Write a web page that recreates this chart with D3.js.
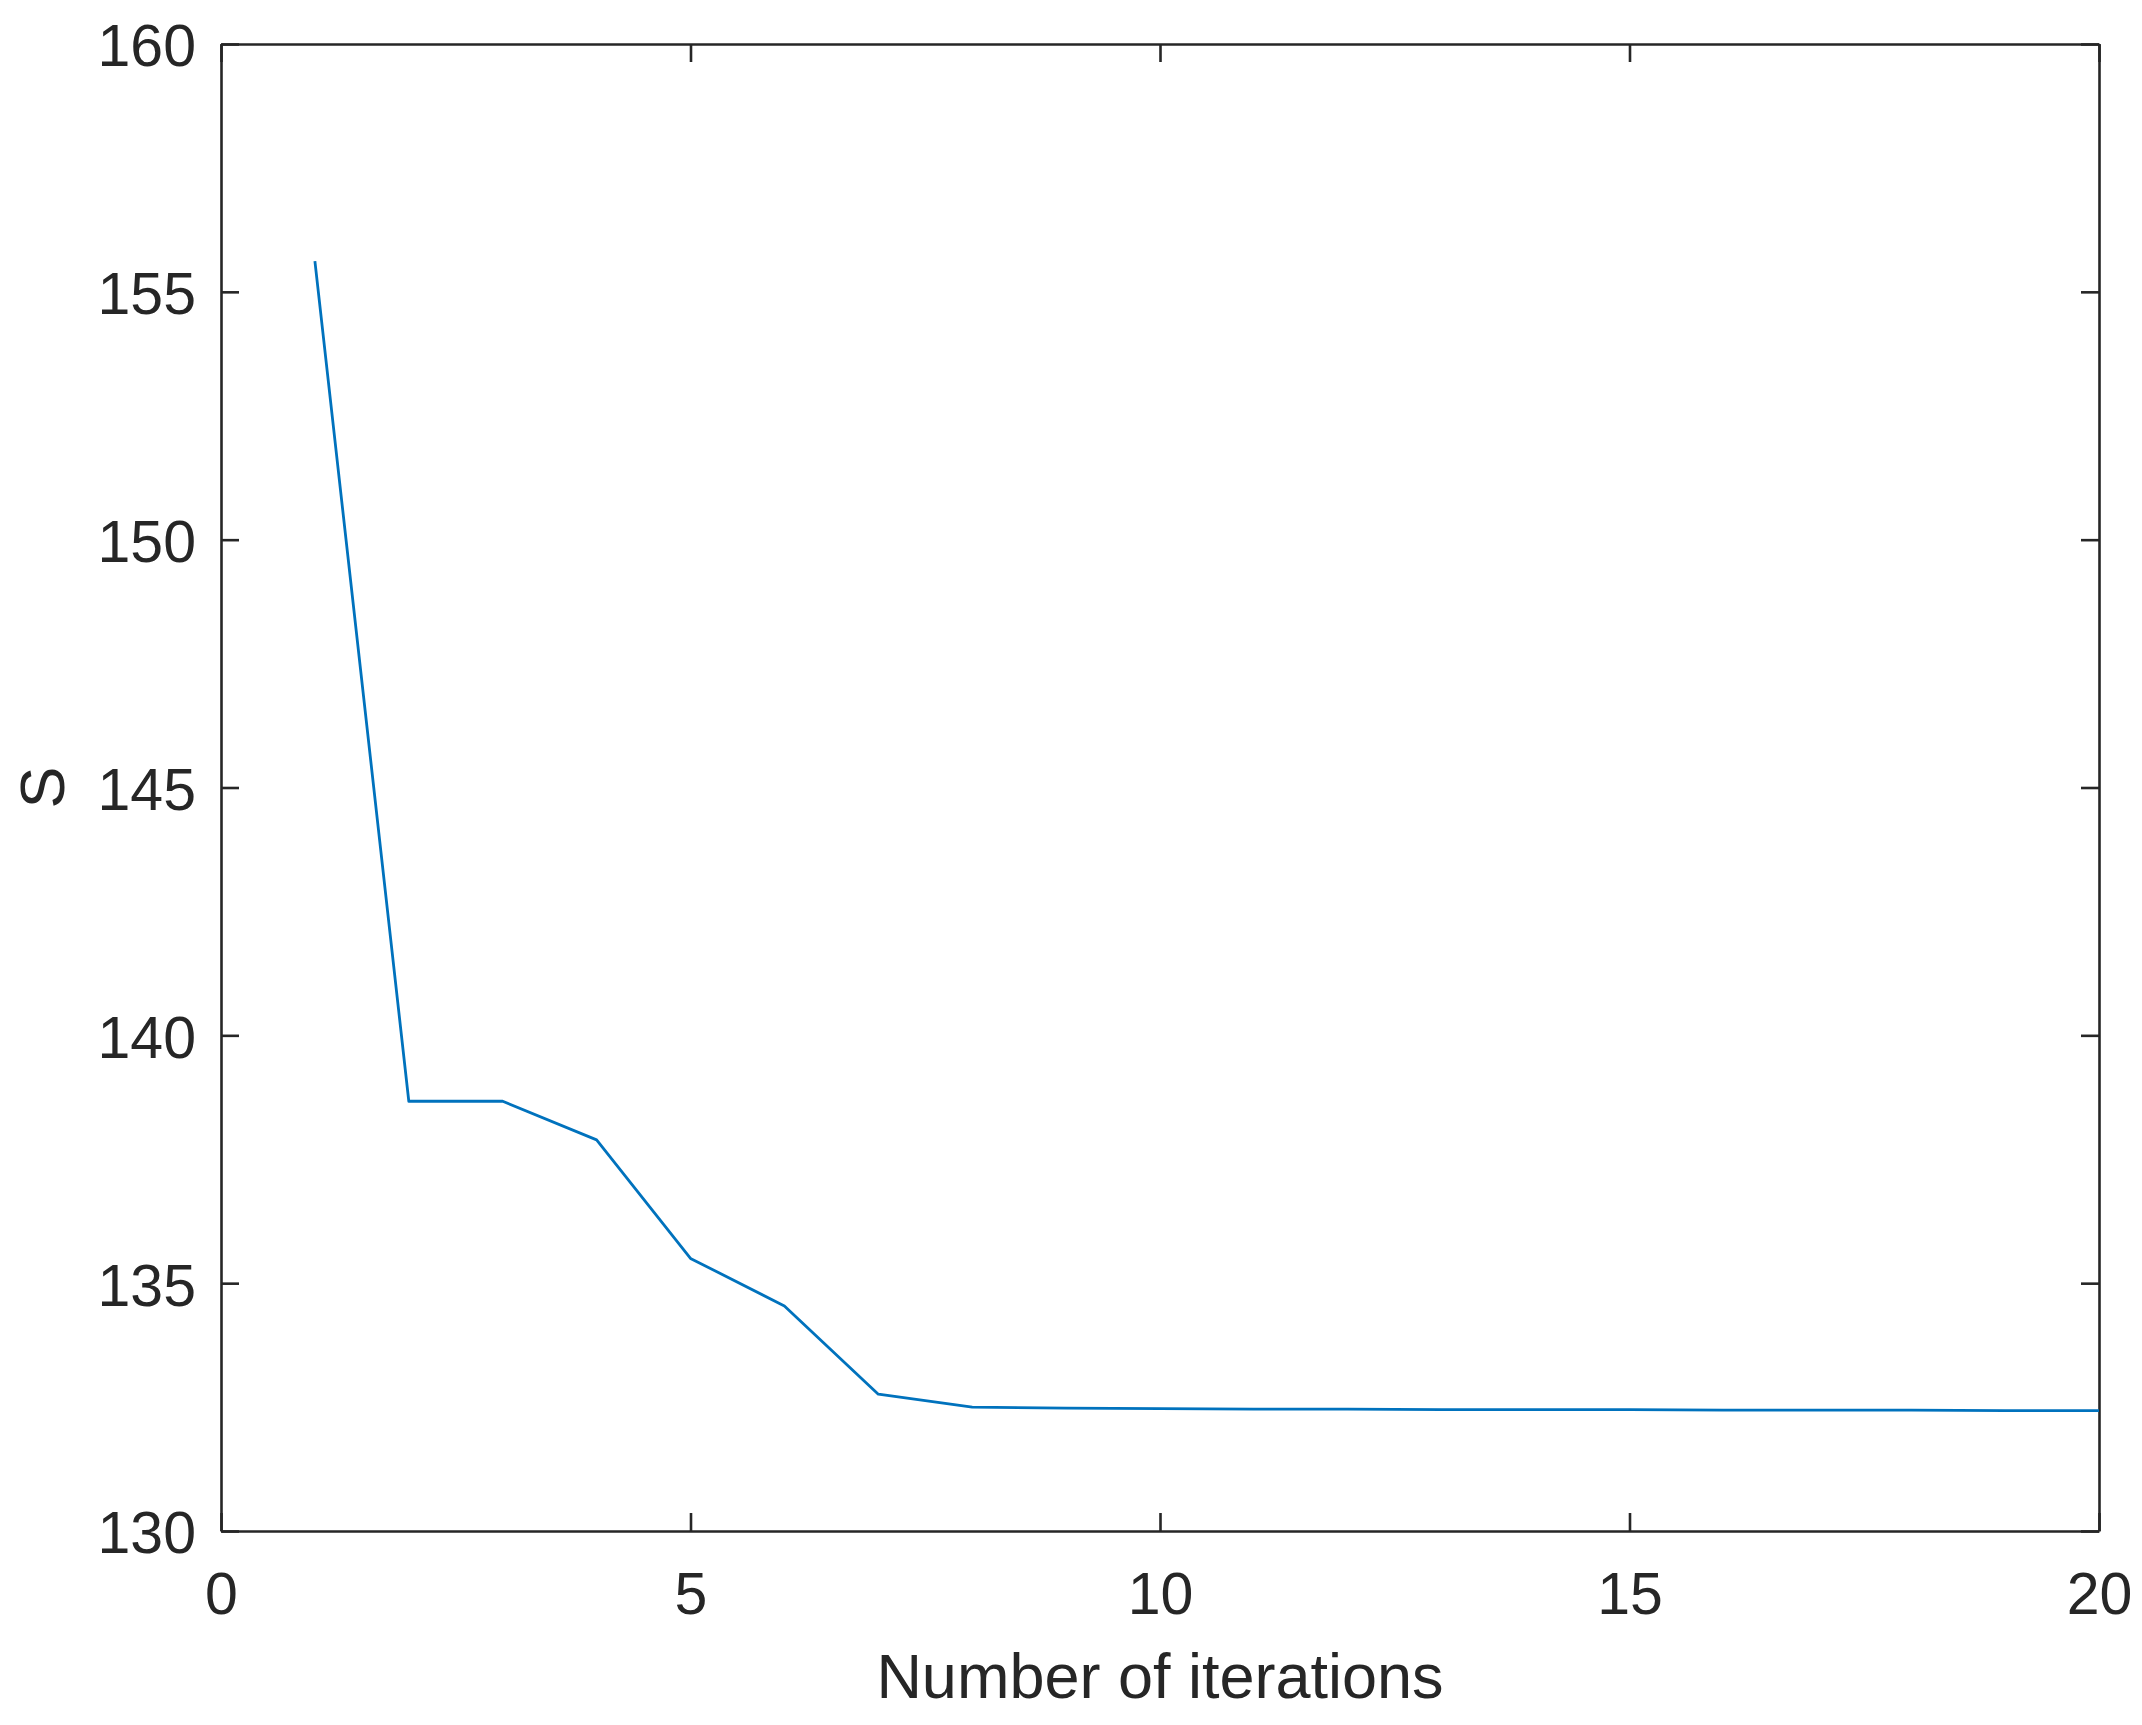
<!DOCTYPE html>
<html>
<head>
<meta charset="utf-8">
<script src="https://cdn.jsdelivr.net/npm/d3@7"></script>
<style>
  body { margin: 0; background: #fff; }
  text { font-family: "Liberation Sans", Arial, Helvetica, sans-serif; fill: #262626; }
  .axis path, .axis line { stroke: #262626; stroke-width: 2.6; }
</style>
</head>
<body>
<script>
// iterations and objective values S
const iterations = [1, 2, 3, 4, 5, 6, 7, 8, 9, 10, 11, 12, 13, 14, 15, 16, 17, 18, 19, 20];
const sValues = [155.62, 138.67, 138.67, 137.89, 135.50, 134.54, 132.76, 132.50, 132.48, 132.47,
                 132.46, 132.46, 132.45, 132.45, 132.45, 132.44, 132.44, 132.44, 132.43, 132.43];
const xTicks = [0, 5, 10, 15, 20];
const yTicks = [130, 135, 140, 145, 150, 155, 160];

const width = 2142, height = 1725;
const margin = { top: 44, right: 43, bottom: 194, left: 221 };
const tickLen = 18;
const tickFont = 59, labelFont = 63;

var svg = d3.select("body").append("svg")
  .attr("width", width)
  .attr("height", height);

let x = d3.scaleLinear().domain([0, 20]).range([margin.left, width - margin.right]);
let y = d3.scaleLinear().domain([130, 160]).range([height - margin.bottom, margin.top]);

// bottom axis with labels, ticks pointing inward
svg.append("g")
  .attr("class", "axis")
  .attr("transform", `translate(0, ${y(130)})`)
  .call(d3.axisBottom(x).tickValues(xTicks).tickSize(-tickLen).tickSizeOuter(0).tickPadding(41))
  .selectAll("text")
  .style("font-size", tickFont + "px");

// top axis, ticks only
svg.append("g")
  .attr("class", "axis")
  .attr("transform", `translate(0, ${y(160)})`)
  .call(d3.axisTop(x).tickValues(xTicks).tickSize(-tickLen).tickSizeOuter(0).tickFormat(""));

// left axis with labels
svg.append("g")
  .attr("class", "axis")
  .attr("transform", `translate(${x(0)}, 0)`)
  .call(d3.axisLeft(y).tickValues(yTicks).tickSize(-tickLen).tickSizeOuter(0).tickPadding(25))
  .selectAll("text")
  .attr("dy", "0.37em")
  .style("font-size", tickFont + "px");

// right axis, ticks only
svg.append("g")
  .attr("class", "axis")
  .attr("transform", `translate(${x(20)}, 0)`)
  .call(d3.axisRight(y).tickValues(yTicks).tickSize(-tickLen).tickSizeOuter(0).tickFormat(""));

svg.selectAll(".axis path").attr("fill", "none");
svg.selectAll(".axis text").attr("fill", "#262626");

// the S curve
let line = d3.line()
  .x((d, i) => x(iterations[i]))
  .y(d => y(d));

svg.append("path")
  .datum(sValues)
  .attr("fill", "none")
  .attr("stroke", "#0072BD")
  .attr("stroke-width", 2.8)
  .attr("stroke-linejoin", "round")
  .attr("d", line);

// axis titles
svg.append("text")
  .attr("x", (x(0) + x(20)) / 2)
  .attr("y", 1698)
  .attr("text-anchor", "middle")
  .style("font-size", labelFont + "px")
  .text("Number of iterations");

svg.append("text")
  .attr("transform", `translate(64, ${(y(130) + y(160)) / 2}) rotate(-90)`)
  .attr("text-anchor", "middle")
  .style("font-size", labelFont + "px")
  .text("S");
</script>
</body>
</html>
